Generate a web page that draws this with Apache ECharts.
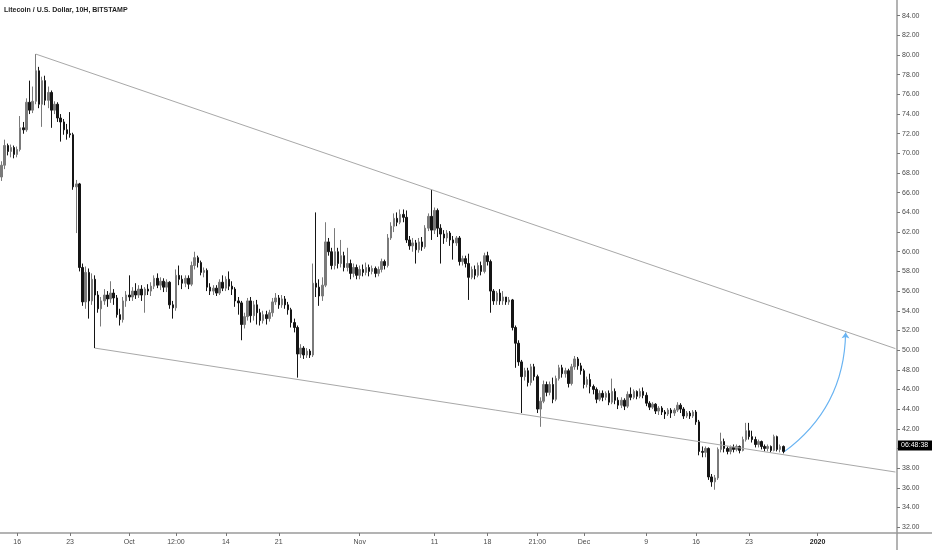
<!DOCTYPE html>
<html><head><meta charset="utf-8">
<script src="https://cdn.jsdelivr.net/npm/echarts@6/dist/echarts.min.js"></script>
<style>html,body{margin:0;padding:0;background:#fff}#c{width:932px;height:550px}</style>
</head><body><div id="c"></div>
<script>
const chartTitle = 'Litecoin / U.S. Dollar, 10H, BITSTAMP';
const barCount = 288; // 10H slots across the visible time range
// [open, close, low, high] per 10H bar
const ohlc = [
[67.6,68.8,67.2,69.2],[68.8,70.8,68.4,71.4],[70.8,70.2,69.8,71.0],[70.2,70.6,69.6,70.9],[70.6,69.9,69.5,70.8],
[69.9,70.4,69.6,70.7],[70.4,72.6,70.2,73.8],[72.6,72.4,72.0,73.2],[72.4,75.2,72.2,75.6],[75.2,74.4,74.0,77.4],
[74.4,75.3,74.1,76.8],[75.3,78.4,75.0,80.1],[78.4,75.0,74.6,78.8],[75.0,77.4,72.7,77.8],[77.4,75.4,74.9,77.9],
[75.4,76.2,74.6,76.8],[76.2,74.4,72.6,76.4],[74.4,75.0,74.0,75.3],[75.0,73.6,73.2,75.2],[73.6,73.2,71.2,74.0],
[73.2,72.4,71.9,73.5],[72.4,72.0,71.4,73.0],[72.0,71.9,71.6,74.2],[71.9,66.6,66.3,72.1],[66.6,66.9,61.9,67.3],
[66.9,58.4,58.0,67.0],[58.4,54.9,54.5,58.8],[54.9,57.9,54.2,58.5],[57.9,55.0,53.2,58.3],[55.0,57.2,54.6,57.8],
[57.2,55.6,50.2,57.6],[55.6,54.2,53.8,56.0],[54.2,55.0,52.4,55.4],[55.0,55.6,54.6,56.2],[55.6,55.2,54.4,56.0],
[55.2,55.8,54.8,57.0],[55.8,55.3,54.6,56.2],[55.3,53.6,53.3,55.6],[53.6,53.1,52.5,54.2],[53.1,55.0,52.8,55.4],
[55.0,55.6,54.4,56.0],[55.6,55.4,55.0,57.6],[55.4,56.0,55.0,56.4],[56.0,55.6,55.2,56.8],[55.6,56.2,55.3,56.6],
[56.2,55.6,55.0,56.6],[55.6,56.2,53.8,56.4],[56.2,56.0,55.6,56.7],[56.0,56.5,55.5,56.9],[56.5,57.3,56.2,57.6],
[57.3,56.6,56.3,57.8],[56.6,57.0,56.1,57.4],[57.0,56.4,55.9,57.3],[56.4,56.9,55.9,57.2],[56.9,54.6,54.2,57.0],
[54.6,54.3,53.2,55.0],[54.3,57.6,54.0,58.2],[57.6,57.2,56.6,58.6],[57.2,56.8,56.2,57.6],[56.8,57.3,56.4,57.6],
[57.3,56.7,56.2,57.6],[56.7,58.6,56.5,59.0],[58.6,59.4,58.2,60.0],[59.4,58.9,58.4,59.6],[58.9,57.9,57.6,59.1],
[57.9,58.1,57.4,58.4],[58.1,56.4,56.0,58.3],[56.4,56.0,55.6,56.8],[56.0,56.3,55.6,56.6],[56.3,55.8,55.5,56.6],
[55.8,56.9,55.6,57.2],[56.9,56.3,56.0,57.6],[56.3,57.2,56.0,57.5],[57.2,56.5,56.1,58.0],[56.5,56.2,55.6,57.0],
[56.2,55.0,54.4,56.4],[55.0,54.8,53.6,55.4],[54.8,52.6,51.0,55.0],[52.6,53.4,52.2,53.8],[53.4,55.0,53.0,55.3],
[55.0,53.5,52.8,55.4],[53.5,54.6,53.0,55.0],[54.6,53.8,52.6,55.1],[53.8,53.0,52.5,54.2],[53.0,53.6,52.7,54.0],
[53.6,53.2,52.6,54.0],[53.2,53.8,52.9,54.1],[53.8,54.9,53.4,55.3],[54.9,55.3,54.6,55.8],[55.3,54.6,54.2,55.6],
[54.6,55.2,54.3,55.6],[55.2,54.6,54.2,55.5],[54.6,54.1,53.6,54.9],[54.1,52.8,52.3,54.3],[52.8,52.3,51.8,53.2],
[52.3,49.6,47.2,52.5],[49.6,50.2,49.2,50.6],[50.2,49.5,49.1,50.4],[49.5,49.9,49.2,50.2],[49.9,49.5,49.2,50.1],
[49.5,56.8,49.3,58.8],[56.8,56.4,55.4,64.0],[56.4,55.5,54.5,57.2],[55.5,56.6,55.0,57.4],[56.6,61.0,56.4,63.0],
[61.0,60.0,59.6,61.4],[60.0,58.6,58.2,60.4],[58.6,60.0,58.2,62.4],[60.0,58.8,58.3,60.4],[58.8,59.6,58.4,61.2],
[59.6,58.4,58.0,60.0],[58.4,58.8,58.0,60.4],[58.8,57.8,57.2,59.2],[57.8,58.4,57.4,58.8],[58.4,57.6,57.2,58.7],
[57.6,58.2,57.2,58.6],[58.2,57.9,57.5,58.7],[57.9,58.4,57.6,58.9],[58.4,58.0,57.5,58.7],[58.0,58.3,57.7,58.6],
[58.3,57.8,57.4,58.5],[57.8,58.2,57.5,58.5],[58.2,59.0,57.9,59.3],[59.0,58.6,58.2,59.2],[58.6,61.4,58.4,61.8],
[61.4,62.6,61.2,63.0],[62.6,63.4,62.0,63.9],[63.4,63.0,62.6,64.0],[63.0,63.8,62.8,64.3],[63.8,63.5,63.0,64.3],
[63.5,61.2,60.9,64.2],[61.2,60.6,60.2,61.6],[60.6,60.9,60.0,61.4],[60.9,60.2,58.8,61.2],[60.2,61.0,59.9,61.4],
[61.0,60.5,60.1,61.5],[60.5,62.4,60.3,62.7],[62.4,63.6,62.1,63.9],[63.6,62.2,61.2,66.3],[62.2,64.2,61.8,64.5],
[64.2,62.4,61.5,64.4],[62.4,61.8,58.8,62.8],[61.8,61.4,60.8,62.2],[61.4,61.9,61.0,62.2],[61.9,61.2,60.6,62.1],
[61.2,60.9,59.2,61.6],[60.9,61.4,60.6,61.6],[61.4,59.0,58.6,61.6],[59.0,59.3,58.6,59.6],[59.3,58.8,58.4,59.6],
[58.8,57.4,55.1,59.8],[57.4,58.2,57.2,58.5],[58.2,57.6,57.2,58.6],[57.6,58.6,57.4,58.9],[58.6,58.0,57.6,59.0],
[58.0,59.6,57.8,59.9],[59.6,59.0,58.6,60.0],[59.0,56.0,53.8,59.2],[56.0,55.0,54.6,56.2],[55.0,55.8,54.6,56.0],
[55.8,55.0,54.6,56.2],[55.0,55.4,54.6,56.0],[55.4,54.9,54.6,55.4],[54.9,55.1,54.6,55.4],[55.1,52.3,52.0,55.2],
[52.3,50.7,48.2,52.5],[50.7,48.8,48.4,51.0],[48.8,47.3,43.6,49.0],[47.3,47.9,46.9,48.2],[47.9,46.7,46.3,48.2],
[46.7,48.3,46.4,48.6],[48.3,47.3,46.9,48.6],[47.3,44.0,43.6,47.5],[44.0,44.8,42.2,45.2],[44.8,46.5,44.6,46.9],
[46.5,45.7,45.3,46.8],[45.7,46.5,45.4,46.8],[46.5,45.0,44.6,47.2],[45.0,47.1,44.8,47.4],[47.1,48.2,46.9,48.5],
[48.2,47.6,47.2,48.5],[47.6,47.9,47.2,48.2],[47.9,46.6,46.2,48.1],[46.6,48.3,46.4,48.6],[48.3,49.1,48.0,49.4],
[49.1,48.4,48.0,49.3],[48.4,47.9,47.5,48.7],[47.9,46.5,46.1,48.1],[46.5,47.0,46.2,47.3],[47.0,46.3,45.6,47.6],
[46.3,46.0,45.5,46.5],[46.0,45.0,44.6,46.2],[45.0,45.6,44.8,45.9],[45.6,45.2,44.8,45.9],[45.2,45.6,44.9,45.8],
[45.6,44.7,44.4,45.9],[44.7,45.8,44.5,47.1],[45.8,44.9,44.5,46.1],[44.9,44.4,44.0,45.2],[44.4,44.9,44.1,45.2],
[44.9,44.3,43.9,45.1],[44.3,45.5,44.1,45.8],[45.5,45.2,44.9,46.2],[45.2,45.8,45.0,46.0],[45.8,45.3,45.0,45.9],
[45.3,45.8,45.1,46.1],[45.8,45.4,45.1,46.2],[45.4,44.6,44.3,45.7],[44.6,44.2,43.9,44.8],[44.2,44.5,44.0,44.7],
[44.5,43.8,43.5,44.6],[43.8,44.1,43.4,44.3],[44.1,43.7,43.4,44.3],[43.7,43.5,43.0,43.9],[43.5,43.9,43.3,44.1],
[43.9,43.6,43.1,44.1],[43.6,43.9,43.3,44.1],[43.9,44.4,43.7,44.7],[44.4,44.0,43.6,44.6],[44.0,43.3,43.0,44.2],
[43.3,43.6,43.1,43.8],[43.6,43.3,43.0,43.8],[43.3,43.7,43.1,43.9],[43.7,42.7,42.4,43.9],[42.7,39.7,39.3,42.9],
[39.7,39.6,39.1,40.2],[39.6,40.0,39.1,40.2],[40.0,37.1,36.8,40.1],[37.1,36.6,36.1,37.4],[36.6,37.0,35.8,37.3],
[37.0,39.9,36.8,40.1],[39.9,40.7,39.6,41.6],[40.7,40.0,39.6,41.0],[40.0,39.7,39.4,40.2],[39.7,40.1,39.4,40.3],
[40.1,39.9,39.6,40.4],[39.9,40.2,39.7,40.4],[40.2,39.8,39.5,40.3],[39.8,40.9,39.7,41.2],[40.9,41.8,40.7,42.6],
[41.8,41.2,40.9,42.6],[41.2,40.9,40.6,41.8],[40.9,40.4,40.1,41.2],[40.4,40.7,40.1,40.9],[40.7,40.2,39.9,40.8],
[40.2,40.0,39.7,40.4],[40.0,40.2,39.7,40.4],[40.2,39.8,39.6,40.3],[39.8,41.2,39.7,41.4],[41.2,39.9,39.7,41.3],
[39.9,40.2,39.6,40.4],[40.2,39.7,39.5,40.3]
];
const xTickIndex  = [5, 22, 41, 56, 72, 89, 115, 139, 156, 172, 187, 207, 223, 240, 262];
const xTickLabels = ['16','23','Oct','12:00','14','21','Nov','11','18','21:00','Dec','9','16','23','2020'];
const yTickValues = [32,34,36,38,40,42,44,46,48,50,52,54,56,58,60,62,64,66,68,70,72,74,76,78,80,82,84];
// annotation lines: [startBar, startPrice, endBar, endPrice]
const trendLines = [[11, 80.1, 287, 50.15], [30, 50.2, 287, 37.6]];
const forecastArrow = [251, 39.6, 271, 51.8];
const countdownTag = { price: 40.3, text: '06:48:38' };

const categories = [];
for (let i = 0; i < barCount; i++) categories.push(String(i));
const tickMap = {};
xTickIndex.forEach((k, j) => { tickMap[k] = xTickLabels[j]; });

const chart = echarts.init(document.getElementById('c'), null, { renderer: 'canvas' });
const gray = '#9a9a9a';
const labelColor = '#4a4a4a';
const font = 'Liberation Sans';

const markData = trendLines.map(t => [
  { coord: [t[0], t[1]], symbol: 'none', lineStyle: { color: '#a8a8a8', width: 1, type: 'solid' } },
  { coord: [t[2], t[3]], symbol: 'none' }
]);
markData.push({
  yAxis: countdownTag.price, symbol: 'none',
  lineStyle: { color: 'rgba(0,0,0,0)', width: 0 },
  label: { show: true, position: 'end', distance: 1, formatter: countdownTag.text,
    color: '#fff', backgroundColor: '#000', padding: [2, 4, 1, 3], fontSize: 7, fontFamily: font }
});

chart.setOption({
  animation: false,
  backgroundColor: '#fff',
  title: {
    text: chartTitle, left: 4, top: 7, padding: 0,
    textStyle: { fontSize: 7, fontWeight: 'bold', color: '#1e1e1e', fontFamily: font }
  },
  grid: { left: 0, right: 35, top: 0, bottom: 17, containLabel: false, outerBoundsMode: 'none' },
  xAxis: {
    type: 'category', data: categories, boundaryGap: true,
    axisLine: { lineStyle: { color: gray, width: 1.5 } },
    axisTick: { show: true, length: 3, alignWithLabel: true, lineStyle: { color: '#777' },
      interval: (i) => tickMap[i] !== undefined },
    axisLabel: {
      interval: (i) => tickMap[i] !== undefined,
      margin: 6, fontSize: 7, color: labelColor, fontFamily: font,
      formatter: (v, i) => { const s = tickMap[i]; return s === '2020' ? '{b|2020}' : (s || ''); },
      rich: { b: { fontWeight: 'bold', fontSize: 7, color: '#222', fontFamily: font } }
    },
    splitLine: { show: false }
  },
  yAxis: {
    type: 'value', position: 'right', min: 31.4, max: 85.6, scale: true,
    axisLine: { show: true, lineStyle: { color: gray, width: 1.5 } },
    axisTick: { show: true, length: 3, lineStyle: { color: '#777' }, customValues: yTickValues },
    axisLabel: { margin: 5, fontSize: 7, color: labelColor, fontFamily: font,
      customValues: yTickValues, formatter: v => v.toFixed(2) },
    splitLine: { show: false }
  },
  graphic: [
    { type: 'line', shape: { x1: 897, y1: 533, x2: 932, y2: 533 }, style: { stroke: gray, lineWidth: 1.5 } },
    { type: 'line', shape: { x1: 897, y1: 533, x2: 897, y2: 550 }, style: { stroke: gray, lineWidth: 1.5 } }
  ],
  series: [{
    type: 'candlestick',
    data: ohlc,
    barWidth: 2,
    itemStyle: { color: '#7a7a7a', color0: '#151515', borderColor: '#7a7a7a', borderColor0: '#151515', borderWidth: 1 },
    markLine: { silent: true, animation: false, symbol: ['none', 'none'], label: { show: false }, data: markData }
  }, {
    type: 'lines',
    coordinateSystem: 'cartesian2d',
    silent: true,
    symbol: ['none', 'arrow'],
    symbolSize: [0, 6],
    lineStyle: { color: '#6ab4f2', width: 1.2, curveness: -0.25, opacity: 1 },
    data: [{ coords: [[forecastArrow[0], forecastArrow[1]], [forecastArrow[2], forecastArrow[3]]] }]
  }]
});
</script>
</body></html>
